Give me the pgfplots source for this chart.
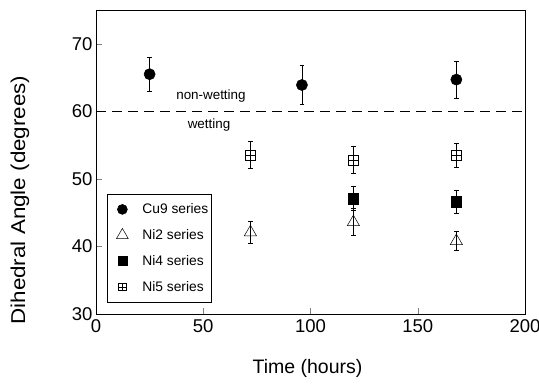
\documentclass[border=0pt]{standalone}
\usepackage{fontspec}
\setmainfont{Liberation Sans}
\usepackage{graphicx}
\usepackage{pgfplots}
\pgfplotsset{compat=1.18}
\pgfdeclareplotmark{boxplus}{%
  \pgfpathrectangle{\pgfqpoint{-\pgfplotmarksize}{-\pgfplotmarksize}}{\pgfqpoint{2\pgfplotmarksize}{2\pgfplotmarksize}}%
  \pgfpathmoveto{\pgfqpoint{-\pgfplotmarksize}{0pt}}\pgfpathlineto{\pgfqpoint{\pgfplotmarksize}{0pt}}%
  \pgfpathmoveto{\pgfqpoint{0pt}{-\pgfplotmarksize}}\pgfpathlineto{\pgfqpoint{0pt}{\pgfplotmarksize}}%
  \pgfusepathqstroke}
\newcommand{\lgf}{\fontsize{13.8}{15}\selectfont}
\begin{document}
\begin{tikzpicture}
\begin{axis}[
  scale only axis, width=429pt, height=304pt,
  xmin=0, xmax=200, ymin=30, ymax=75,
  xtick={0,50,100,150,200}, ytick={30,40,50,60,70},
  tick align=inside, xtick pos=left, ytick pos=left,
  major tick length=6pt,
  /pgf/number format/assume math mode=true,
  tick label style={font=\fontsize{18.5}{20}\selectfont},
  xticklabel style={yshift=-2pt},
  xlabel={Time (hours)},
  ylabel={\scalebox{1.12}[1]{Dihedral Angle (degrees)}},
  xlabel style={font=\fontsize{19.5}{22}\selectfont, at={(axis description cs:0.493,-0.178)}, anchor=center},
  ylabel style={font=\fontsize{20}{22}\selectfont, at={(axis description cs:-0.177,0.375)}, anchor=center},
  axis line style={line width=0.8pt},
  legend style={at={(0.0256,0.038)}, anchor=south west,
    draw=black, line width=0.8pt, row sep=10.3pt, inner xsep=1pt, inner ysep=7.5pt},
  legend image code/.code={\draw[#1] plot coordinates {(14pt,0pt)}; \path[draw=none,fill=none] (0pt,-1pt) rectangle (32pt,1pt);},
  legend cell align=left,
  every axis plot/.append style={line width=0.5pt},
]
\addplot[only marks, mark=*, mark size=5.6pt, black, legend image post style={mark size=5pt},
  error bars/.cd, y dir=both, y explicit, error bar style={line width=0.6pt}, error mark options={rotate=90, mark size=2.4pt, line width=0.6pt}]
  coordinates {(25,65.5) +- (0,2.5) (96,63.9) +- (0,2.9) (168,64.7) +- (0,2.7)};
\addlegendentry{\lgf Cu9 series}
\addplot[only marks, mark=triangle, mark size=7pt, black, mark options={fill=white}, legend image post style={mark size=6.8pt},
  error bars/.cd, y dir=both, y explicit, error bar style={line width=0.6pt}, error mark options={rotate=90, mark size=2.4pt, line width=0.6pt}]
  coordinates {(72,42.1) +- (0,1.6) (120,43.6) +- (0,2.0) (168,40.8) +- (0,1.4)};
\addlegendentry{\lgf Ni2 series}
\addplot[only marks, mark=square*, mark size=5.3pt, black, legend image post style={mark size=4.5pt},
  error bars/.cd, y dir=both, y explicit, error bar style={line width=0.6pt}, error mark options={rotate=90, mark size=2.4pt, line width=0.6pt}]
  coordinates {(120,47.1) +- (0,1.8) (168,46.6) +- (0,1.7)};
\addlegendentry{\lgf Ni4 series}
\addplot[only marks, mark=boxplus, mark size=5pt, black, mark options={line width=0.5pt, fill=white}, legend image post style={mark size=3.7pt},
  error bars/.cd, y dir=both, y explicit, error bar style={line width=0.6pt}, error mark options={rotate=90, mark size=2.4pt, line width=0.6pt}]
  coordinates {(72,53.5) +- (0,2.0) (120,52.8) +- (0,2.0) (168,53.5) +- (0,1.8)};
\addlegendentry{\lgf Ni5 series}
\addplot[black, dashed, dash pattern=on 10pt off 6pt, line width=0.9pt, forget plot] coordinates {(0,60) (200,60)};
\node[font=\fontsize{13.4}{15}\selectfont] at (axis cs:53.6,62.2) {non-wetting};
\node[font=\fontsize{13.4}{15}\selectfont] at (axis cs:52.7,57.9) {wetting};
\end{axis}
\pgfresetboundingbox
\path (-96pt,-70pt) rectangle (443pt,314pt);
\end{tikzpicture}
\end{document}
